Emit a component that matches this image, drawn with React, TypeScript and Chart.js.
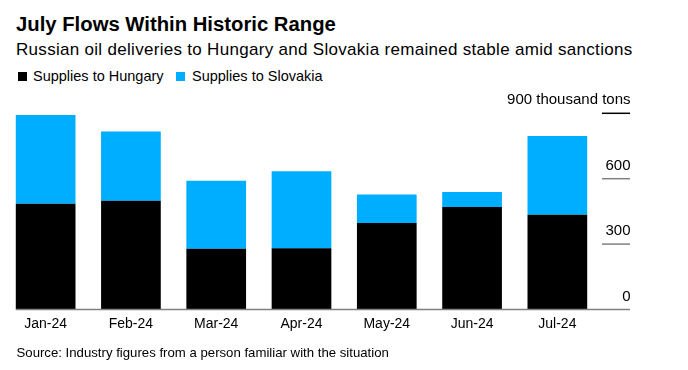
import React, { useEffect, useRef } from "react";
import { Chart, registerables } from "chart.js";

Chart.register(...registerables);

const months = ["Jan-24", "Feb-24", "Mar-24", "Apr-24", "May-24", "Jun-24", "Jul-24"];
const hungary = [485, 499, 279, 281, 397, 470, 435];
const slovakia = [407, 318, 312, 353, 131, 69, 361];
const yTicks = [0, 300, 600, 900];
const yTickLabels = ["0", "300", "600", "900 thousand tons"];

const FONT = '"Liberation Sans", Arial, Helvetica, sans-serif';
const BLACK = "#000000";
const BLUE = "#00AEFF";

const axisPlugin = {
  id: "customAxis",
  afterDatasetsDraw(chart: any) {
    const ctx = chart.ctx;
    const y = chart.scales.y;
    const meta = chart.getDatasetMeta(0);
    const first = meta.data[0] as any;
    const left = first.x - first.width / 2;
    const right = 630;
    const tickLeft = 602;
    ctx.save();
    const y0 = y.getPixelForValue(0);
    ctx.strokeStyle = "#808080";
    ctx.lineWidth = 1.5;
    ctx.beginPath();
    ctx.moveTo(left, y0);
    ctx.lineTo(right, y0);
    ctx.stroke();
    ctx.font = `15px ${FONT}`;
    ctx.textAlign = "right";
    ctx.textBaseline = "alphabetic";
    ctx.fillStyle = "#000";
    yTicks.forEach((v, i) => {
      const py = y.getPixelForValue(v);
      if (v !== 0) {
        ctx.strokeStyle = v === 900 ? "#000000" : "#808080";
        ctx.lineWidth = 1.5;
        ctx.beginPath();
        ctx.moveTo(tickLeft, py);
        ctx.lineTo(right, py);
        ctx.stroke();
      }
      ctx.fillText(yTickLabels[i], right + 0.5, py - 9);
    });
    ctx.restore();
  },
};

export default function App() {
  const ref = useRef<HTMLCanvasElement | null>(null);
  useEffect(() => {
    if (!ref.current) return;
    const chart = new Chart(ref.current, {
      type: "bar",
      data: {
        labels: months,
        datasets: [
          { label: "Supplies to Hungary", data: hungary, backgroundColor: BLACK, borderWidth: 0 },
          { label: "Supplies to Slovakia", data: slovakia, backgroundColor: BLUE, borderWidth: 0 },
        ],
      },
      options: {
        responsive: false,
        animation: false,
        devicePixelRatio: 1,
        layout: { padding: { left: 3, right: 88, top: 113.3, bottom: 31.7 } },
        plugins: {
          legend: { display: false },
          title: { display: false },
          tooltip: { enabled: false },
        },
        datasets: { bar: { categoryPercentage: 1, barPercentage: 0.7 } },
        scales: {
          x: {
            stacked: true,
            grid: { display: false, drawTicks: false },
            border: { display: false },
            ticks: { color: "#000", font: { family: FONT, size: 14 }, padding: 6, maxRotation: 0, autoSkip: false },
          },
          y: {
            stacked: true,
            display: false,
            min: 0,
            max: 900,
          },
        },
      },
      plugins: [axisPlugin],
    });
    return () => chart.destroy();
  }, []);

  const abs: React.CSSProperties = { position: "absolute", whiteSpace: "nowrap", fontFamily: FONT, color: "#000", margin: 0 };
  return (
    <div style={{ position: "absolute", left: 0, top: 0, width: 688, height: 370, background: "#fff", overflow: "hidden" }}>
      <div style={{ ...abs, left: 16, top: 14, fontSize: 20.3, lineHeight: "20px", fontWeight: 700 }}>
        July Flows Within Historic Range
      </div>
      <div style={{ ...abs, left: 16, top: 40.8, fontSize: 17, lineHeight: "17px", letterSpacing: "0.3px" }}>
        Russian oil deliveries to Hungary and Slovakia remained stable amid sanctions
      </div>
      <div style={{ ...abs, left: 18, top: 72, width: 9, height: 9, background: BLACK }} />
      <div style={{ ...abs, left: 33, top: 69, fontSize: 14.5, lineHeight: "14.5px" }}>Supplies to Hungary</div>
      <div style={{ ...abs, left: 176, top: 72, width: 9, height: 9, background: BLUE }} />
      <div style={{ ...abs, left: 192, top: 69, fontSize: 14.5, lineHeight: "14.5px" }}>Supplies to Slovakia</div>
      <canvas ref={ref} width={688} height={370} style={{ position: "absolute", left: 0, top: 0, width: 688, height: 370 }} />
      <div style={{ ...abs, left: 16.5, top: 346.1, fontSize: 13.2, lineHeight: "13.2px" }}>
        Source: Industry figures from a person familiar with the situation
      </div>
    </div>
  );
}
